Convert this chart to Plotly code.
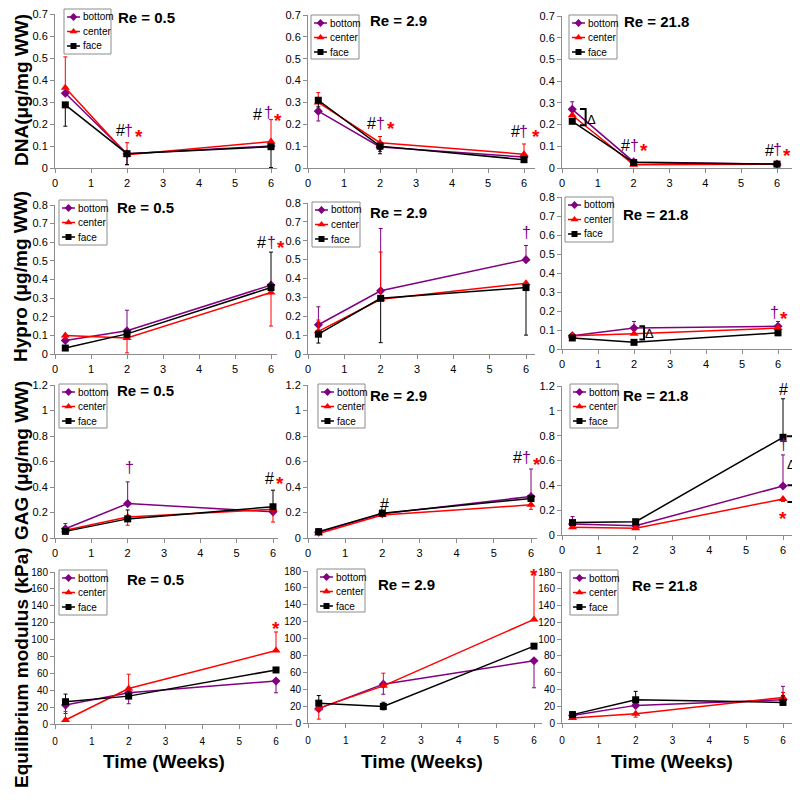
import plotly.graph_objects as go

weeks = [0.286, 2, 6]
series_names = ["bottom", "center", "face"]
re_labels = ["Re = 0.5", "Re = 2.9", "Re = 21.8"]
measure_titles = ["DNA(μg/mg WW)", "Hypro (μg/mg WW)", "GAG (μg/mg WW)", "Equilibrium modulus (kPa)"]
y_max = [0.7, 0.8, 1.2, 180]
y_step = [0.1, 0.1, 0.2, 20]

# one row per Re (0.5, 2.9, 21.8), one value per time point
dna_bottom = [[0.34, 0.065, 0.10], [0.26, 0.096, 0.05], [0.27, 0.028, 0.018]]
dna_bottom_up = [[0, 0, 0], [0, 0, 0], [0.035, 0, 0]]
dna_bottom_dn = [[0, 0.05, 0], [0.045, 0.02, 0.01], [0, 0, 0]]
dna_center = [[0.365, 0.06, 0.12], [0.30, 0.116, 0.063], [0.243, 0.015, 0.018]]
dna_center_up = [[0.14, 0.055, 0.10], [0.045, 0.028, 0.047], [0, 0, 0]]
dna_center_dn = [[0, 0, 0], [0, 0, 0], [0, 0, 0]]
dna_face = [[0.287, 0.065, 0.097], [0.31, 0.10, 0.038], [0.215, 0.025, 0.018]]
dna_face_up = [[0, 0, 0], [0, 0, 0], [0, 0, 0]]
dna_face_dn = [[0.097, 0.05, 0.095], [0.03, 0.035, 0.01], [0.01, 0, 0]]

hyp_bottom = [[0.073, 0.125, 0.37], [0.155, 0.335, 0.50], [0.07, 0.11, 0.12]]
hyp_bottom_up = [[0.03, 0.11, 0], [0.095, 0.33, 0.075], [0.01, 0.035, 0.025]]
hyp_bottom_dn = [[0, 0, 0], [0, 0, 0], [0, 0, 0]]
hyp_center = [[0.10, 0.086, 0.33], [0.12, 0.29, 0.375], [0.07, 0.08, 0.11]]
hyp_center_up = [[0, 0, 0], [0.06, 0.25, 0], [0, 0, 0]]
hyp_center_dn = [[0.02, 0.08, 0.18], [0, 0, 0], [0, 0, 0]]
hyp_face = [[0.032, 0.108, 0.357], [0.105, 0.295, 0.352], [0.058, 0.035, 0.085]]
hyp_face_up = [[0, 0.02, 0.19], [0, 0, 0], [0, 0, 0]]
hyp_face_dn = [[0.01, 0.02, 0], [0.047, 0.235, 0.252], [0, 0, 0]]

gag_bottom = [[0.073, 0.27, 0.205], [0.045, 0.19, 0.326], [0.088, 0.075, 0.395]]
gag_bottom_up = [[0.04, 0.17, 0], [0, 0, 0.215], [0.06, 0, 0.25]]
gag_bottom_dn = [[0, 0, 0], [0, 0, 0], [0, 0, 0]]
gag_center = [[0.06, 0.165, 0.225], [0.035, 0.18, 0.26], [0.062, 0.054, 0.29]]
gag_center_up = [[0, 0, 0], [0, 0, 0], [0, 0, 0]]
gag_center_dn = [[0.01, 0.065, 0.1], [0, 0, 0.035], [0.01, 0.01, 0.02]]
gag_face = [[0.052, 0.15, 0.245], [0.05, 0.195, 0.31], [0.10, 0.107, 0.787]]
gag_face_up = [[0, 0.07, 0.13], [0, 0, 0], [0, 0, 0.31]]
gag_face_dn = [[0, 0, 0], [0, 0, 0], [0, 0, 0]]

mod_bottom = [[22.4, 37, 51], [17, 46, 73.7], [9, 21, 27.7]]
mod_bottom_up = [[0, 0, 0], [0, 0, 0], [3, 0, 16]]
mod_bottom_dn = [[10, 13, 14], [0, 12, 32], [0, 0, 0]]
mod_center = [[4.7, 42, 87], [17.6, 44, 122.7], [6, 11, 30.4]]
mod_center_up = [[10, 17, 22], [0, 15, 55], [0, 0, 6]]
mod_center_dn = [[0, 0, 0], [13, 0, 0], [0, 4, 6]]
mod_face = [[26.4, 33, 64], [23.5, 19.6, 91], [10, 27.7, 24.5]]
mod_face_up = [[9, 5, 0], [9, 5, 0], [3, 10, 8]]
mod_face_dn = [[0, 0, 0], [0, 4, 0], [0, 0, 0]]

measures = [
    [(dna_bottom, dna_bottom_up, dna_bottom_dn), (dna_center, dna_center_up, dna_center_dn), (dna_face, dna_face_up, dna_face_dn)],
    [(hyp_bottom, hyp_bottom_up, hyp_bottom_dn), (hyp_center, hyp_center_up, hyp_center_dn), (hyp_face, hyp_face_up, hyp_face_dn)],
    [(gag_bottom, gag_bottom_up, gag_bottom_dn), (gag_center, gag_center_up, gag_center_dn), (gag_face, gag_face_up, gag_face_dn)],
    [(mod_bottom, mod_bottom_up, mod_bottom_dn), (mod_center, mod_center_up, mod_center_dn), (mod_face, mod_face_up, mod_face_dn)],
]

# significance marks: (row, col, week, value, symbol)
sig_marks = [
    (0, 0, 1.82, 0.17, "#"), (0, 0, 2.05, 0.17, "†"), (0, 0, 2.33, 0.165, "*"),
    (0, 0, 5.63, 0.245, "#"), (0, 0, 5.92, 0.25, "†"), (0, 0, 6.19, 0.24, "*"),
    (0, 1, 1.77, 0.205, "#"), (0, 1, 2.02, 0.205, "†"), (0, 1, 2.3, 0.205, "*"),
    (0, 1, 5.75, 0.165, "#"), (0, 1, 5.98, 0.165, "†"), (0, 1, 6.33, 0.165, "*"),
    (0, 2, 1.78, 0.105, "#"), (0, 2, 2.01, 0.105, "†"), (0, 2, 2.3, 0.105, "*"),
    (0, 2, 5.78, 0.082, "#"), (0, 2, 6.0, 0.085, "†"), (0, 2, 6.29, 0.08, "*"),
    (1, 0, 5.73, 0.6, "#"), (1, 0, 6.0, 0.6, "†"), (1, 0, 6.28, 0.6, "*"),
    (1, 1, 6.0, 0.645, "†"),
    (1, 2, 5.9, 0.19, "†"), (1, 2, 6.18, 0.185, "*"),
    (2, 0, 2.05, 0.555, "†"), (2, 0, 5.9, 0.465, "#"), (2, 0, 6.19, 0.465, "*"),
    (2, 1, 2.05, 0.265, "#"), (2, 1, 5.65, 0.63, "#"), (2, 1, 5.88, 0.635, "†"), (2, 1, 6.15, 0.615, "*"),
    (2, 2, 6.0, 1.17, "#"), (2, 2, 6.0, 0.725, "†"), (2, 2, 6.0, 0.175, "*"),
    (3, 0, 6.0, 119, "*"),
    (3, 1, 6.0, 181, "*"),
]
brackets = [
    (0, 2, [(0.5, 0.272), (0.66, 0.272), (0.66, 0.197), (0.5, 0.197)]),
    (1, 2, [(2.15, 0.12), (2.28, 0.12), (2.28, 0.05), (2.15, 0.05)]),
    (2, 2, [(6.1, 0.795), (6.4, 0.795), (6.4, 0.33), (6.3, 0.33)]),
    (2, 2, [(6.12, 0.40), (6.32, 0.40), (6.32, 0.265), (6.12, 0.265)]),
]
deltas = [(0, 2, 0.82, 0.225), (1, 2, 2.42, 0.08), (2, 2, 6.22, 0.57)]

# panel geometry in screen pixels (the page body adds an 8px offset)
W = 800
OFF = 8
col_x0 = [55, 308, 562]
xend_px = [[277, 535, 797], [277, 535, 797], [278, 537, 797], [292, 542, 797]]
x6_px = [[271, 524, 777], [271, 526, 778], [273, 531, 783], [276, 534, 783]]
top_px = [[14, 15, 16], [205, 203, 197], [385, 385, 386], [572, 571, 572]]
zero_px = [[168, 168, 168], [354, 354, 349], [538, 538, 535], [724, 723, 723]]
legend_box = [[(64, 9, 47, 45), (311, 15, 48, 44), (569, 15, 48, 44)],
              [(59, 200, 48, 45), (312, 202, 48, 45), (565, 197, 48, 45)],
              [(59, 384, 48, 44), (318, 384, 47, 44), (570, 384, 48, 44)],
              [(59, 570, 48, 45), (317, 569, 48, 43), (570, 570, 48, 45)]]
re_pos = [[(146, 18), (398, 21), (656, 22)], [(145, 207), (398, 213), (655, 214)],
          [(145, 390), (398, 395), (655, 395)], [(155, 579), (406, 584), (664, 585)]]
ytitle_pos = [(21, 90), (21, 277), (21, 461), (21, 668)]
xtitle_pos = [(164, 761), (422, 761), (672, 761)]

PURPLE = "#800080"
colors = [PURPLE, "#FF0000", "#000000"]
symbols = ["diamond", "triangle-up", "square"]
sizes = [7, 8, 7]
sym_colors = {"#": "#000000", "†": PURPLE, "*": "#FF0000"}
FONT = "Liberation Sans, Arial, sans-serif"
NARROW = "Liberation Sans Narrow, Arial Narrow, Liberation Sans, sans-serif"


def unit(r, c):
    return (x6_px[r][c] - col_x0[c]) / 6


def to_px(r, c, x, y):
    scale = (zero_px[r][c] - top_px[r][c]) / y_max[r]
    return col_x0[c] + unit(r, c) * x, zero_px[r][c] - scale * y


def paper(px, py):
    return (px - OFF) / W, 1 - (py - OFF) / W


fig = go.Figure()
layout = {}
annotations = []
shapes = []

for r in range(4):
    for c in range(3):
        idx = r * 3 + c + 1
        for s in range(3):
            vals, up, dn = measures[r][s]
            fig.add_trace(go.Scatter(
                x=weeks, y=vals[c], mode="lines+markers", name=series_names[s],
                xaxis=f"x{idx}", yaxis=f"y{idx}", showlegend=False, cliponaxis=False,
                line=dict(color=colors[s], width=1.5),
                marker=dict(symbol=symbols[s], size=sizes[s], color=colors[s]),
                error_y=dict(type="data", array=up[c], arrayminus=dn[c], color=colors[s],
                             thickness=1, width=2),
            ))
        x0 = col_x0[c]
        xmax = (xend_px[r][c] - x0) / unit(r, c)
        small = r == 3
        tickfont = dict(family=NARROW if small else FONT, size=10 if small else 11, color="black")
        dx0, dy0 = paper(x0, zero_px[r][c])
        dx1, dy1 = paper(xend_px[r][c], top_px[r][c])
        layout[f"xaxis{idx}"] = dict(
            domain=[dx0, dx1], range=[0, xmax], anchor=f"y{idx}",
            tickmode="linear", tick0=0, dtick=1, showgrid=False, zeroline=False,
            showline=True, linecolor="#8c8c8c", linewidth=1, ticks="outside", ticklen=4,
            tickcolor="#8c8c8c", tickfont=tickfont, ticklabelstandoff=4 if small else 1,
            automargin=False, ticklabeloverflow="allow",
        )
        layout[f"yaxis{idx}"] = dict(
            domain=[dy0, dy1], range=[0, y_max[r]],
            anchor=f"x{idx}", tickmode="linear", tick0=0, dtick=y_step[r], showgrid=False,
            zeroline=False, showline=True, linecolor="#8c8c8c", linewidth=1, ticks="outside",
            ticklen=4, tickcolor="#8c8c8c", tickfont=tickfont, automargin=False,
            ticklabeloverflow="allow",
        )

        # Re label
        ax, ay = paper(*re_pos[r][c])
        annotations.append(dict(x=ax, y=ay, xref="paper", yref="paper", text=f"<b>{re_labels[c]}</b>",
                                xanchor="center", yanchor="middle", showarrow=False,
                                font=dict(family=FONT, size=15, color="black")))

        # legend box
        lx, ly, lw, lh = legend_box[r][c]
        bx0, by0 = paper(lx, ly)
        bx1, by1 = paper(lx + lw, ly + lh)
        shapes.append(dict(type="rect", xref="paper", yref="paper", x0=bx0, y0=by1, x1=bx1, y1=by0,
                           line=dict(color="#8c8c8c", width=1), fillcolor="white", layer="below"))
        for s in range(3):
            cy = ly + 8 + 14.5 * s
            sx0, sy = paper(lx + 3, cy)
            sx1, _ = paper(lx + 16, cy)
            shapes.append(dict(type="line", xref="paper", yref="paper", x0=sx0, x1=sx1, y0=sy, y1=sy,
                               line=dict(color=colors[s], width=1.5), layer="below"))
            tx, ty = paper(lx + 16.5, cy)
            annotations.append(dict(x=tx, y=ty, xref="paper", yref="paper", text=series_names[s],
                                    xanchor="left", yanchor="middle", showarrow=False,
                                    font=dict(family=FONT, size=10, color="black")))

# legend sample markers on a pixel overlay axis
for s in range(3):
    mx, my = [], []
    for r in range(4):
        for c in range(3):
            lx, ly, lw, lh = legend_box[r][c]
            mx.append(lx + 9.5)
            my.append(ly + 8 + 14.5 * s)
    fig.add_trace(go.Scatter(x=mx, y=my, mode="markers", xaxis="x13", yaxis="y13", showlegend=False,
                             cliponaxis=False, hoverinfo="skip",
                             marker=dict(symbol=symbols[s], size=sizes[s] - 1, color=colors[s])))
layout["xaxis13"] = dict(domain=[0, 1], range=[OFF, W + OFF], visible=False, anchor="y13")
layout["yaxis13"] = dict(domain=[0, 1], range=[W + OFF, OFF], visible=False, anchor="x13")

for r, c, x, y, t in sig_marks:
    ax, ay = paper(*to_px(r, c, x, y))
    star = t == "*"
    annotations.append(dict(x=ax, y=ay, xref="paper", yref="paper", text=f"<b>{t}</b>" if star else t,
                            xanchor="center", yanchor="middle", showarrow=False, yshift=-5 if star else 0,
                            font=dict(family=FONT, size=19 if star else 16, color=sym_colors[t])))

for r, c, pts in brackets:
    path = ""
    for i, (x, y) in enumerate(pts):
        px_, py_ = paper(*to_px(r, c, x, y))
        path += ("M" if i == 0 else " L") + f" {px_:.5f},{py_:.5f}"
    shapes.append(dict(type="path", xref="paper", yref="paper", path=path,
                       line=dict(color="black", width=2)))

for r, c, x, y in deltas:
    ax, ay = paper(*to_px(r, c, x, y))
    annotations.append(dict(x=ax, y=ay, xref="paper", yref="paper", text="Δ", showarrow=False,
                            xanchor="center", yanchor="middle",
                            font=dict(family=FONT, size=13, color="black")))

for r in range(4):
    ax, ay = paper(*ytitle_pos[r])
    annotations.append(dict(x=ax, y=ay, xref="paper", yref="paper", text=f"<b>{measure_titles[r]}</b>",
                            xanchor="center", yanchor="middle", textangle=-90, showarrow=False,
                            font=dict(family=FONT, size=19, color="black")))
for c in range(3):
    ax, ay = paper(*xtitle_pos[c])
    annotations.append(dict(x=ax, y=ay, xref="paper", yref="paper", text="<b>Time (Weeks)</b>",
                            xanchor="center", yanchor="middle", showarrow=False,
                            font=dict(family=FONT, size=19, color="black")))

fig.update_layout(
    width=W, height=W, margin=dict(l=0, r=0, t=0, b=0, pad=0, autoexpand=False), autosize=False,
    paper_bgcolor="white", plot_bgcolor="rgba(0,0,0,0)",
    font=dict(family=FONT, color="black"),
    annotations=annotations, shapes=shapes, showlegend=False,
    **layout,
)
fig.write_html("out.html")
